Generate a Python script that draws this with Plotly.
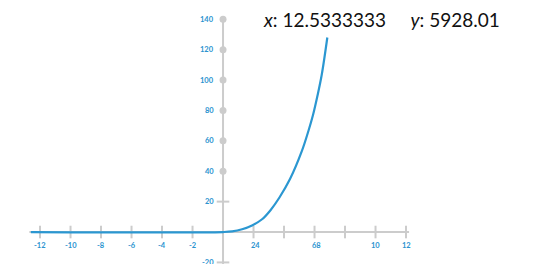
import plotly.graph_objects as go

# Curve values
curve_x = [-12.6, 0, 0.6, 1.25, 1.9, 2.56, 3.1, 3.7, 4.4, 5.16, 5.6, 5.9, 6.2, 6.47, 6.84]
curve_y = [0, 0, 0.4, 1.8, 4.3, 8.4, 14.2, 22.7, 35, 53, 66.5, 77, 90, 103.3, 128]

# Axis ticks
x_ticks = [-12, -10, -8, -6, -4, -2, 2, 4, 6, 8, 10, 12]
x_tick_text = ["-12", "-10", "-8", "-6", "-4", "-2", "24", "", "68", "", "10", "12"]
y_ticks = [-20, 20, 40, 60, 80, 100, 120, 140]
y_tick_text = ["-20", "20", "40", "60", "80", "100", "120", "140"]
y_dot_ticks = [40, 60, 80, 100, 120, 140]
y_line_ticks = [-20, 20]

hover_x = "12.5333333"
hover_y = "5928.01"

AXIS = "#cccccc"
BLUE = "#2b97d1"
TICKBLUE = "#2a93cf"

fig = go.Figure()
fig.add_trace(go.Scatter(x=[-12.7, 12.2], y=[0, 0], mode="lines",
                         line=dict(color=AXIS, width=2), hoverinfo="skip"))
fig.add_trace(go.Scatter(x=[0, 0], y=[-30, 141], mode="lines",
                         line=dict(color=AXIS, width=2), hoverinfo="skip"))
fig.add_trace(go.Scatter(x=x_ticks, y=[0] * len(x_ticks), mode="markers",
                         marker=dict(symbol="line-ns", size=9,
                                     line=dict(color=AXIS, width=2)),
                         hoverinfo="skip"))
fig.add_trace(go.Scatter(x=[0] * len(y_line_ticks), y=y_line_ticks, mode="markers",
                         marker=dict(symbol="line-ew", size=9,
                                     line=dict(color=AXIS, width=2)),
                         hoverinfo="skip"))
fig.add_trace(go.Scatter(x=[0] * len(y_dot_ticks), y=y_dot_ticks, mode="markers",
                         marker=dict(symbol="circle", size=7, color=AXIS),
                         hoverinfo="skip"))
fig.add_trace(go.Scatter(x=curve_x, y=curve_y, mode="lines",
                         line=dict(color=BLUE, width=2.2, shape="spline", smoothing=1.0),
                         hoverinfo="skip"))

for xv, t in zip(x_ticks, x_tick_text):
    if t:
        fig.add_annotation(x=xv, y=0, text=f"<b>{t}</b>", showarrow=False, yshift=-13,
                           xshift=2 if t in ("24", "68") else 0,
                           font=dict(size=7.5, color=TICKBLUE, family="Lato"))
for yv, t in zip(y_ticks, y_tick_text):
    fig.add_annotation(x=0, y=yv, text=f"<b>{t}</b>", showarrow=False, xshift=-7,
                       xanchor="right",
                       font=dict(size=7.5, color=TICKBLUE, family="Lato"))

fig.add_annotation(xref="paper", yref="paper", x=253 / 540, y=1 - 12 / 264,
                   xanchor="left", yanchor="middle", showarrow=False,
                   text=f"<i>x</i>: {hover_x}&nbsp;&nbsp;&nbsp;&nbsp;&nbsp;<i>y</i>: {hover_y}",
                   font=dict(size=19, color="#111111", family="Lato"))

fig.update_layout(
    width=540, height=264,
    margin=dict(l=0, r=0, t=0, b=0),
    paper_bgcolor="white", plot_bgcolor="white",
    showlegend=False,
    xaxis=dict(visible=False, range=[-14.10, 21.31]),
    yaxis=dict(visible=False, range=[-26.3, 147.4]),
)
fig.write_html("out.html")
